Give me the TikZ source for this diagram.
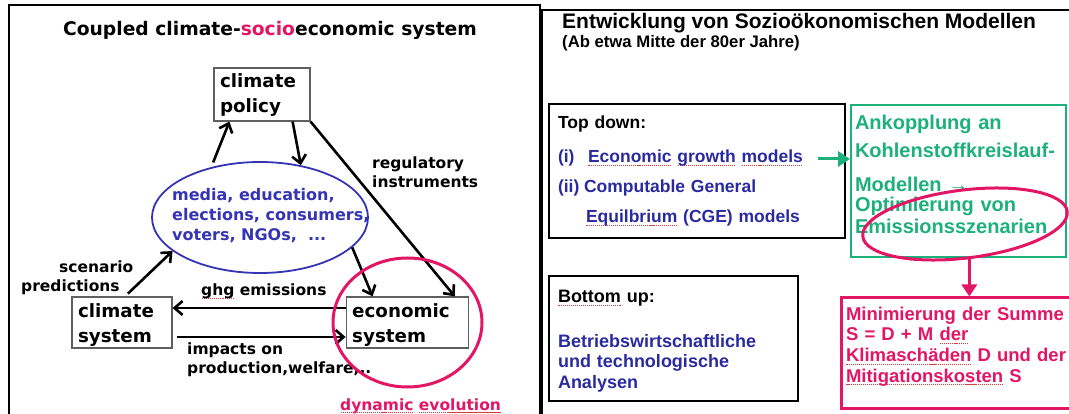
\documentclass[tikz,border=0pt]{standalone}
\usepackage{fontspec}
\usetikzlibrary{positioning, shapes.geometric, arrows.meta, calc}

\setmainfont{Liberation Sans}
\newfontfamily\leftfont{DejaVu Sans}

\definecolor{socblue}{RGB}{52,52,180}
\definecolor{tdblue}{RGB}{42,42,160}
\definecolor{dynpink}{RGB}{226,22,100}
\definecolor{cplgreen}{RGB}{28,176,122}
\definecolor{boxgray}{RGB}{95,95,95}
\definecolor{spellred}{RGB}{215,60,60}

% sublinhado pontilhado (corretor ortografico)
\newcommand{\spell}[1]{\leavevmode\setbox0=\hbox{#1}\rlap{\color{spellred}\raisebox{-3pt}{\hbox to \wd0{\xleaders\hbox to 2pt{\hss\rule{1.1pt}{0.9pt}\hss}\hfill}}}#1}

\begin{document}
\begin{tikzpicture}[
    x=1pt, y=-1pt,
    % Estilos
    panel/.style={draw=black, line width=2.6pt},
    sysbox/.style={
        draw=boxgray, line width=1.2pt, fill=white, align=left,
        inner xsep=6pt, inner ysep=2pt, text height=14pt,
        font=\leftfont\bfseries\fontsize{18.3}{25}\selectfont
    },
    blueoval/.style={
        ellipse, draw=socblue, line width=1.8pt,
        minimum width=216pt, minimum height=111pt, inner sep=0pt
    },
    pinkoval/.style={ellipse, draw=dynpink, line width=3pt, inner sep=0pt},
    tag/.style={
        align=left, inner sep=0pt,
        font=\leftfont\bfseries\fontsize{15.5}{19}\selectfont
    },
    link/.style={line width=2.6pt, -{Straight Barb[length=8pt,width=14pt]}},
    modelbox/.style={
        draw=black, line width=2.6pt, align=left,
        inner xsep=9pt, inner ysep=0pt, text height=13pt
    },
    greenbox/.style={
        draw=cplgreen, line width=2pt, align=left, text=cplgreen,
        inner xsep=4pt, inner ysep=0pt, text height=15pt,
        font=\bfseries\fontsize{20}{22}\selectfont
    },
    pinkbox/.style={
        draw=dynpink, line width=3pt, align=left, text=dynpink,
        inner xsep=5pt, inner ysep=0pt, text height=14pt,
        font=\bfseries\fontsize{18.5}{20.7}\selectfont
    },
    fillarrow/.style={line width=3pt, -{Triangle[length=12pt,width=15pt]}}
]

    \useasboundingbox (0,0) rectangle (1069,414);

    % --- MOLDURAS ---
    \draw[panel] (9,5) rectangle (540,440);
    \draw[panel] (541.5,10) rectangle (1090,440);

    % --- PAINEL ESQUERDO ---
    \node[anchor=base, inner sep=0pt, font=\leftfont\bfseries\fontsize{18.7}{22}\selectfont]
        (ltitle) at (270,35.5) {Coupled climate-\textcolor{dynpink}{socio}economic system};

    \node[sysbox, text width=84pt, minimum height=53pt, text depth=27pt] (policy) at (262,94.5) {climate\\policy};
    \node[sysbox, text width=88pt, minimum height=51pt, text depth=25pt] (csys) at (122,322.5) {climate\\system};
    \node[sysbox, text width=110pt, minimum height=51pt, text depth=25pt, right=173pt of csys] (esys) {economic\\system};

    \node[blueoval] (society) at (260,217.5) {};
    % base = ultima linha
    \node[tag, anchor=base west, text=socblue, font=\leftfont\bfseries\fontsize{16}{20}\selectfont]
        (societytext) at (172,241) {media, education,\\elections, consumers,\\voters, NGOs,~ ...};

    \node[tag, anchor=base west] (regulbl) at (372,188) {regulatory\\instruments};
    \node[tag, anchor=base west] (scenlbl) at (21,292) {\hspace*{38pt}scenario\\predictions};
    \node[tag, anchor=base west] (ghglbl) at (201,296) {\spell{ghg} emissions};
    \node[tag, anchor=base west] (impactlbl) at (187,373) {impacts on\\production,welfare,..};

    % Cadeias
    \draw[link, shorten <=5pt] (society.134) -- ([xshift=16pt]policy.south west);
    \draw[link] ([xshift=-18pt]policy.south east) -- (society.52);
    \draw[link] (policy.south east) -- ([xshift=-14pt]esys.north east);
    \draw[link] (society.-18) -- ([xshift=27pt]esys.north west);
    \draw[link, shorten <=4pt] ([xshift=3pt]csys.north) -- (society.-159);
    \draw[link] ([yshift=14.5pt]esys.west) -- ([yshift=14.5pt]csys.east);
    \draw[link, shorten <=4pt] ([yshift=-14.5pt]csys.east) -- ([yshift=-14.5pt]esys.west);

    \node[pinkoval, minimum width=149pt, minimum height=129pt] (dynring) at (407.5,322.5) {};
    \node[tag, anchor=base west, text=dynpink] (dynlbl) at (340,410) {\spell{dynamic} \spell{evolution}};

    % --- PAINEL DIREITO ---
    \node[anchor=base west, inner sep=0pt, font=\bfseries\fontsize{21}{25}\selectfont]
        (rtitle) at (562,29) {Entwicklung von Sozioökonomischen Modellen};
    \node[anchor=base west, inner sep=0pt, font=\bfseries\fontsize{16.7}{20}\selectfont]
        (rsub) at (562,48) {(Ab etwa Mitte der 80er Jahre)};

    \node[modelbox, text width=278pt, minimum height=134pt, text depth=97pt,
          font=\bfseries\fontsize{17.5}{30}\selectfont] (topdown) at (697,171) {%
        Top down:\\[4pt]
        \textcolor{tdblue}{\makebox[30pt][l]{(i)}\spell{Economic} \spell{growth} \spell{models}}\\
        \textcolor{tdblue}{\makebox[26pt][l]{(ii)}Computable General}\\
        \textcolor{tdblue}{\hspace*{28pt}\spell{Equilbrium} (CGE) models}};

    \node[modelbox, text width=231pt, minimum height=125pt, text depth=84pt,
          font=\bfseries\fontsize{18}{21}\selectfont] (bottomup) at (673.5,338.5) {%
        \spell{Bottom} up:\\[23pt]
        {\color{tdblue}Betriebswirtschaftliche\\und technologische\\Analysen}};

    \node[greenbox, text width=207pt, minimum height=152pt, text depth=117pt] (couple) at (958.5,181) {%
        Ankopplung an\\[6pt]
        Kohlenstoffkreislauf-\\[12pt]
        Modellen →\\[-2pt]
        Optimierung von\\
        Emissionsszenarien};

    \node[pinkbox, text width=226pt, minimum height=110pt, text depth=80pt] (minbox) at (959,353) {%
        Minimierung der Summe\\
        S = D + M \spell{der}\\
        \spell{Klimaschäden} D und der\\
        \spell{Mitigationskosten} S};

    \node[pinkoval, minimum width=206pt, minimum height=68pt, rotate=7] (optring) at (965,224) {};

    % --- CONEXOES ---
    \draw[fillarrow, cplgreen] ([xshift=-28pt,yshift=12pt]topdown.east) coordinate (gstart) -- (gstart -| couple.west);
    \draw[fillarrow, dynpink] (optring.south) -- (optring.south |- minbox.north);

\end{tikzpicture}
\end{document}
